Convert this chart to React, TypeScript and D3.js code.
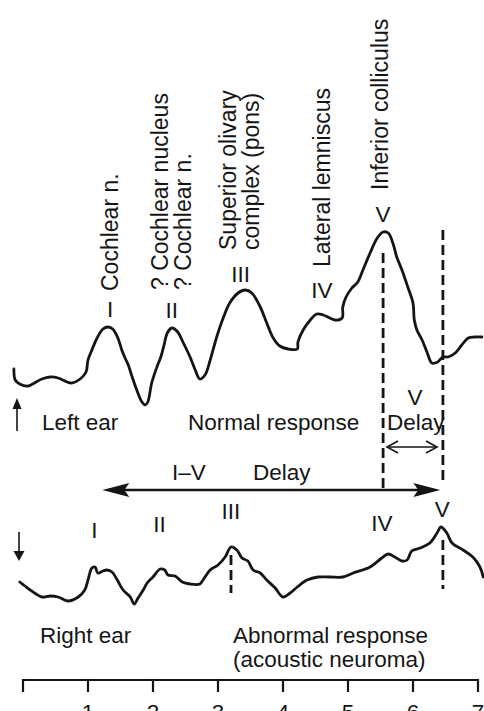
import React from "react";
import * as d3 from "d3";

// ---- data (latency in ms, amplitude in arbitrary µV units) ----
const topTime = [-0.14, -0.12, -0.05, 0.08, 0.15, 0.29, 0.42, 0.54, 0.68, 0.75, 0.88, 0.97, 1.0, 1.06, 1.14, 1.23, 1.31, 1.38, 1.46, 1.52, 1.57, 1.62, 1.68, 1.75, 1.83, 1.88, 1.92, 1.98, 2.06, 2.12, 2.17, 2.22, 2.29, 2.38, 2.46, 2.57, 2.65, 2.72, 2.8, 2.88, 2.98, 3.08, 3.18, 3.31, 3.42, 3.52, 3.65, 3.75, 3.85, 3.95, 4.08, 4.22, 4.23, 4.31, 4.42, 4.52, 4.62, 4.72, 4.8, 4.91, 4.92, 4.97, 5.06, 5.15, 5.23, 5.34, 5.45, 5.54, 5.62, 5.69, 5.75, 5.83, 5.92, 6.0, 6.02, 6.06, 6.14, 6.22, 6.29, 6.38, 6.46, 6.54, 6.65, 6.75, 6.85, 6.95, 7.06];
const topAmp = [0.41, 0.3, 0.26, 0.24, 0.26, 0.31, 0.33, 0.32, 0.28, 0.27, 0.31, 0.38, 0.5, 0.6, 0.72, 0.81, 0.83, 0.81, 0.72, 0.6, 0.52, 0.45, 0.33, 0.2, 0.08, 0.05, 0.08, 0.27, 0.43, 0.53, 0.65, 0.77, 0.82, 0.78, 0.68, 0.53, 0.4, 0.31, 0.35, 0.5, 0.73, 0.92, 1.07, 1.17, 1.2, 1.17, 1.03, 0.87, 0.72, 0.64, 0.61, 0.61, 0.68, 0.8, 0.9, 0.96, 0.95, 0.92, 0.9, 0.92, 1.03, 1.13, 1.22, 1.28, 1.4, 1.57, 1.72, 1.78, 1.77, 1.67, 1.53, 1.4, 1.23, 1.07, 0.9, 0.8, 0.7, 0.57, 0.47, 0.48, 0.53, 0.53, 0.57, 0.65, 0.72, 0.73, 0.73];

const botTime = [-0.05, 0.03, 0.11, 0.2, 0.29, 0.42, 0.54, 0.69, 0.85, 0.95, 1.0, 1.06, 1.11, 1.15, 1.23, 1.29, 1.37, 1.45, 1.54, 1.65, 1.71, 1.77, 1.85, 1.91, 2.0, 2.11, 2.18, 2.23, 2.34, 2.45, 2.57, 2.72, 2.77, 2.88, 3.0, 3.11, 3.2, 3.29, 3.37, 3.46, 3.54, 3.65, 3.75, 3.88, 4.0, 4.11, 4.22, 4.37, 4.54, 4.72, 4.92, 5.08, 5.34, 5.52, 5.62, 5.72, 5.83, 5.91, 5.98, 6.11, 6.26, 6.37, 6.43, 6.52, 6.6, 6.77, 6.92, 7.03, 7.08];
const botAmp = [0.28, 0.24, 0.2, 0.16, 0.13, 0.14, 0.13, 0.09, 0.13, 0.2, 0.3, 0.42, 0.43, 0.37, 0.39, 0.4, 0.38, 0.3, 0.2, 0.13, 0.06, 0.12, 0.2, 0.27, 0.33, 0.41, 0.4, 0.35, 0.34, 0.28, 0.26, 0.26, 0.3, 0.4, 0.45, 0.53, 0.63, 0.6, 0.52, 0.49, 0.4, 0.37, 0.3, 0.22, 0.13, 0.17, 0.23, 0.3, 0.33, 0.33, 0.33, 0.37, 0.43, 0.52, 0.56, 0.53, 0.49, 0.5, 0.59, 0.62, 0.67, 0.77, 0.83, 0.77, 0.67, 0.6, 0.53, 0.43, 0.33];

const tickValues = [0, 1, 2, 3, 4, 5, 6, 7];
const tickLabels = ["", "1", "2", "3", "4", "5", "6", "7"];

const topNumerals = ["I", "II", "III", "IV", "V"];
const topNumeralTimes = [1.34, 2.29, 3.35, 4.6, 5.54];
const botNumerals = ["I", "II", "III", "IV", "V"];
const botNumeralTimes = [1.1, 2.1, 3.2, 5.52, 6.45];

const siteLabels = [
  ["Cochlear n."],
  ["? Cochlear nucleus", "? Cochlear n."],
  ["Superior olivary", "complex (pons)"],
  ["Lateral lemniscus"],
  ["Inferior colliculus"],
];

const topWaveV = 5.54;
const topDelayEnd = 6.46;
const botWaveIII = 3.2;
const botWaveV = 6.46;

// ---- layout ----
const W = 484;
const H = 711;
const FONT = "'Liberation Sans', Arial, Helvetica, sans-serif";
const INK = "#151515";

export default function App() {
  const x = d3.scaleLinear().domain([0, 7]).range([23, 478]);
  const yTop = d3.scaleLinear().domain([0, 1]).range([410, 310]);
  const yBot = d3.scaleLinear().domain([0, 1]).range([610, 510]);

  const topPts: [number, number][] = topTime.map((t, i) => [t, topAmp[i]]);
  const botPts: [number, number][] = botTime.map((t, i) => [t, botAmp[i]]);

  const lineTop = d3
    .line<[number, number]>()
    .x((d) => x(d[0]))
    .y((d) => yTop(d[1]))
    .curve(d3.curveCatmullRom.alpha(0.5));
  const lineBot = d3
    .line<[number, number]>()
    .x((d) => x(d[0]))
    .y((d) => yBot(d[1]))
    .curve(d3.curveCatmullRom.alpha(0.5));

  // rotated label layout: baseline x, start y, per line
  const siteLayout = [
    { xs: [118], y: 291 },
    { xs: [168, 191], y: 290 },
    { xs: [236, 259], y: 250 },
    { xs: [330], y: 267 },
    { xs: [388], y: 190 },
  ];
  const topNumY = [317, 318, 282, 298, 222];
  const botNumY = [538, 532, 519, 531, 517];

  const fs = 22.5;
  const fsRot = 23;

  const axisY = 680;

  const bigY = 490;
  const bigL = x(1.22);
  const bigR = x(6.42);
  const smallY = 447;
  const smallL = x(5.6);
  const smallR = x(6.37);

  return (
    <svg
      width={W}
      height={H}
      style={{ position: "absolute", left: 0, top: 0, background: "#fff" }}
      fontFamily={FONT}
    >
      <rect width={W} height={H} fill="#fff" />

      {/* site labels, rotated */}
      {siteLabels.map((lines, i) =>
        lines.map((s, j) => (
          <text
            key={`s${i}-${j}`}
            transform={`translate(${siteLayout[i].xs[j]},${siteLayout[i].y}) rotate(-90)`}
            fontSize={fsRot}
            fill={INK}
          >
            {s}
          </text>
        ))
      )}

      {/* top numerals */}
      {topNumerals.map((s, i) => (
        <text
          key={`tn${i}`}
          x={x(topNumeralTimes[i])}
          y={topNumY[i]}
          textAnchor="middle"
          fontSize={fs}
          fill={INK}
        >
          {s}
        </text>
      ))}

      {/* top trace */}
      <path d={lineTop(topPts) || ""} fill="none" stroke={INK} strokeWidth={2.8} strokeLinejoin="round" strokeLinecap="round" />

      {/* dashed latency markers, top */}
      <line x1={x(topWaveV)} x2={x(topWaveV)} y1={253} y2={488} stroke={INK} strokeWidth={2.8} strokeDasharray="10,5" />
      <line x1={x(topDelayEnd)} x2={x(topDelayEnd)} y1={230} y2={482} stroke={INK} strokeWidth={2.8} strokeDasharray="10,5" />

      {/* up arrow */}
      <line x1={17} x2={17} y1={431} y2={406} stroke={INK} strokeWidth={1.6} />
      <path d="M17,398 L12.5,409 L21.5,409 Z" fill={INK} />

      <text x={42} y={430} fontSize={fs} fill={INK}>Left ear</text>
      <text x={188} y={430} fontSize={fs} fill={INK}>Normal response</text>
      <text x={415} y={405} textAnchor="middle" fontSize={fs} fill={INK}>V</text>
      <text x={387} y={430} fontSize={fs} fill={INK}>Delay</text>

      {/* small double arrow */}
      <line x1={smallL} x2={smallR} y1={smallY} y2={smallY} stroke={INK} strokeWidth={1.6} />
      <path d={`M${smallL + 11},${smallY - 6} L${smallL},${smallY} L${smallL + 11},${smallY + 6}`} fill="none" stroke={INK} strokeWidth={1.6} />
      <path d={`M${smallR - 11},${smallY - 6} L${smallR},${smallY} L${smallR - 11},${smallY + 6}`} fill="none" stroke={INK} strokeWidth={1.6} />

      <text x={172} y={480} fontSize={fs} fill={INK}>I–V</text>
      <text x={253} y={480} fontSize={fs} fill={INK}>Delay</text>

      {/* big double arrow */}
      <line x1={bigL + 20} x2={bigR - 20} y1={bigY} y2={bigY} stroke={INK} strokeWidth={2.6} />
      <path d={`M${bigL},${bigY} L${bigL + 27},${bigY - 7} L${bigL + 22},${bigY} L${bigL + 27},${bigY + 7} Z`} fill={INK} />
      <path d={`M${bigR},${bigY} L${bigR - 27},${bigY - 7} L${bigR - 22},${bigY} L${bigR - 27},${bigY + 7} Z`} fill={INK} />

      {/* bottom numerals */}
      {botNumerals.map((s, i) => (
        <text
          key={`bn${i}`}
          x={x(botNumeralTimes[i])}
          y={botNumY[i]}
          textAnchor="middle"
          fontSize={fs}
          fill={INK}
        >
          {s}
        </text>
      ))}

      {/* down arrow */}
      <line x1={19} x2={19} y1={532} y2={552} stroke={INK} strokeWidth={1.6} />
      <path d="M19,561 L13.5,551 L24.5,551 Z" fill={INK} />

      {/* bottom trace */}
      <path d={lineBot(botPts) || ""} fill="none" stroke={INK} strokeWidth={2.8} strokeLinejoin="round" strokeLinecap="round" />

      <line x1={x(botWaveIII)} x2={x(botWaveIII)} y1={555} y2={593} stroke={INK} strokeWidth={2.8} strokeDasharray="10,5" />
      <line x1={x(botWaveV)} x2={x(botWaveV)} y1={540} y2={589} stroke={INK} strokeWidth={2.8} strokeDasharray="10,5" />

      <text x={40} y={643} fontSize={fs} fill={INK}>Right ear</text>
      <text x={233} y={643} fontSize={fs} fill={INK}>Abnormal response</text>
      <text x={233} y={667} fontSize={fs} fill={INK}>(acoustic neuroma)</text>

      {/* time axis */}
      <line x1={x(0)} x2={x(7)} y1={axisY} y2={axisY} stroke={INK} strokeWidth={2.2} />
      {tickValues.map((v, i) => (
        <g key={`t${i}`}>
          <line x1={x(v)} x2={x(v)} y1={axisY - 1} y2={axisY + 12} stroke={INK} strokeWidth={2.2} />
          <text x={x(v)} y={720} textAnchor="middle" fontSize={fs} fill={INK}>
            {tickLabels[i]}
          </text>
        </g>
      ))}
    </svg>
  );
}
